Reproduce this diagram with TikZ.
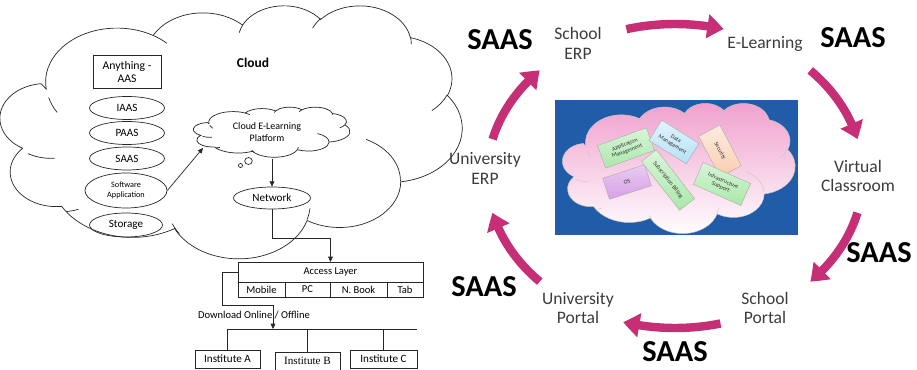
\documentclass[tikz,border=0pt]{standalone}
\usepackage{fontspec}
\setmainfont{Carlito}
\newfontfamily\timesfont{Liberation Serif}
\usetikzlibrary{shapes.geometric, arrows.meta, positioning, bending, calc}

\definecolor{saaspink}{RGB}{198,46,118}
\definecolor{panelblue}{RGB}{33,92,168}
\definecolor{labelgrey}{RGB}{60,60,60}
\definecolor{cloudpink}{RGB}{240,160,205}
\definecolor{cardgreen}{RGB}{170,232,170}
\definecolor{cardcyan}{RGB}{180,225,245}
\definecolor{cardpeach}{RGB}{250,205,175}
\definecolor{cardviolet}{RGB}{215,160,230}

% office style cloud outline, drawn in a 432 x 432 box (y pointing down)
\newcommand{\cloudoutline}{(39.00,143.70)
  arc[start angle=-187.75, end angle=-59.63, x radius=67.53, y radius=91.90]
  arc[start angle=-152.02, end angle=-45.47, x radius=53.33, y radius=72.67]
  arc[start angle=-153.48, end angle=-37.33, x radius=43.65, y radius=59.45]
  arc[start angle=-139.72, end angle=-10.21, x radius=48.57, y radius=65.95]
  arc[start angle=-74.79, end angle=23.21, x radius=53.33, y radius=72.73]
  arc[start angle=-37.52, end angle=81.86, x radius=67.75, y radius=92.20]
  arc[start angle=0.46, end angle=121.97, x radius=57.85, y radius=78.67]
  arc[start angle=16.85, end angle=153.94, x radius=67.52, y radius=92.15]
  arc[start angle=59.00, end angle=150.17, x radius=77.20, y radius=105.43]
  arc[start angle=-276.70, end angle=-136.91, x radius=43.60, y radius=59.18]
  arc[start angle=-239.65, end angle=-95.89, x radius=43.45, y radius=59.45]
  -- cycle}
% the little inner folds of the same cloud
\newcommand{\cloudcreases}{
  (46.93,261.77) arc[start angle=85.54, end angle=120.35, x radius=43.45, y radius=59.45]
  (69.28,348.99) arc[start angle=68.25, end angle=83.30, x radius=43.60, y radius=59.18]
  (164.78,390.90) arc[start angle=146.25, end angle=158.47, x radius=67.52, y radius=92.15]
  (288.27,347.51) arc[start angle=4.74, end angle=16.84, x radius=67.52, y radius=92.15]
  (341.29,229.54) arc[start angle=-64.00, end angle=0.46, x radius=57.85, y radius=78.67]
  (417.98,153.54) arc[start angle=23.21, end angle=49.67, x radius=53.33, y radius=72.73]
  (383.24,54.26) arc[start angle=-10.21, end angle=0.82, x radius=48.57, y radius=65.95]
  (290.78,39.52) arc[start angle=-156.28, end angle=-139.72, x radius=48.57, y radius=65.95]
  (221.41,47.20) arc[start angle=-167.72, end angle=-153.48, x radius=43.65, y radius=59.45]
  (140.00,51.92) arc[start angle=-59.63, end angle=-45.72, x radius=67.53, y radius=91.90]
  (41.27,157.89) arc[start angle=165.53, end angle=148.10, x radius=67.53, y radius=91.90]}

\begin{document}
\begin{tikzpicture}[x=0.03cm, y=-0.03cm,
    % left: cloud architecture
    line/.style={draw=black!85, line width=0.6pt},
    arrow/.style={line, -{Triangle[length=4.5pt, width=4pt]}},
    service/.style={
        ellipse,
        line,
        inner sep=0pt,
        minimum width=2.25cm,
        minimum height=0.69cm,
        font=\fontsize{9.5}{10}\selectfont
    },
    cell/.style={
        rectangle,
        line,
        outer sep=0pt,
        inner sep=0pt,
        minimum height=0.45cm,
        font=\fontsize{9}{10}\selectfont
    },
    institute/.style={
        rectangle,
        line,
        inner sep=0pt,
        minimum width=1.95cm,
        minimum height=0.54cm,
        font=\fontsize{9.5}{10}\selectfont
    },
    % right: SAAS ring
    stage/.style={align=center, text=labelgrey, font=\fontsize{15}{17}\selectfont},
    saas/.style={font=\fontsize{26}{26}\selectfont\bfseries},
    ringarrow/.style={
        draw=saaspink,
        line width=7.2pt,
        -{Triangle[width=20pt, length=14pt, bend]}
    },
    card/.style={
        rectangle,
        draw=gray!70,
        line width=0.3pt,
        inner sep=0.5pt,
        align=center,
        text=black!80,
        font=\fontsize{5}{5.5}\selectfont
    }
]
\path[use as bounding box] (0,0) rectangle (917,370);

% === Cloud (left) ===
\begin{scope}[shift={(5,5)}, x=0.031736cm, y=-0.017569cm]
    \draw[line] \cloudoutline;
    \draw[line] \cloudcreases;
\end{scope}
\node[font=\fontsize{11.5}{12}\selectfont\bfseries] (cloudtitle) at (253,63) {Cloud};

\node[rectangle, line, minimum width=2.04cm, minimum height=0.99cm, inner sep=0pt,
      align=center, font=\fontsize{10}{11}\selectfont] (xaas) at (127,72) {Anything -\\AAS};
\node[service] (iaas) at (127,108) {IAAS};
\node[service] (paas) at (127,133) {PAAS};
\node[service] (saas) at (127,158.5) {SAAS};
\node[service, minimum width=2.46cm, minimum height=1.05cm, align=center,
      font=\fontsize{7}{8.5}\selectfont] (softapp) at (126,190.5) {Software\\Application};
\node[service, minimum width=2.19cm, minimum height=0.72cm] (storage) at (126,225) {Storage};

% e-learning platform cloud with its callout bubbles
\begin{scope}[shift={(195,107)}, x=0.010764cm, y=-0.003472cm]
    \draw[line, fill=white] \cloudoutline;
    \draw[line] \cloudcreases;
\end{scope}
\draw[line] (248.5,161) ellipse [x radius=3.8, y radius=3.5];
\draw[line] (240.5,165.5) circle [radius=2];
\node[align=center, font=\fontsize{8.5}{10}\selectfont] (platform) at (267,132) {Cloud E-Learning\\Platform};
\coordinate (platformin) at (203,148);
\coordinate (platformout) at (272,159);

\node[service, minimum width=2.31cm, minimum height=0.66cm] (network) at (272,198) {Network};

\draw[arrow] (softapp.east) -- (platformin);
\draw[arrow] (platformout) -- (network.north);

% === Access layer ===
\node[cell, minimum width=5.55cm, minimum height=0.6cm] (access) at (330.5,272) {Access Layer};
\node[cell, minimum width=1.41cm, anchor=north west] (mobile) at (access.south west) {Mobile};
\node[cell, minimum width=1.35cm, anchor=north west] (pc) at (mobile.north east) {PC};
\node[cell, minimum width=1.71cm, anchor=north west] (nbook) at (pc.north east) {N. Book};
\node[cell, minimum width=1.08cm, anchor=north west] (tab) at (nbook.north east) {Tab};

\draw[arrow] (network.south) -- ++(0,29) -| (access.north);

% === Institutes ===
\node[institute] (instA) at (227.5,359) {Institute A};
\node[institute, font=\fontsize{9.5}{10}\timesfont] (instB) at (307.5,361) {Institute B};
\node[institute, minimum width=2.01cm] (instC) at (383.5,359) {Institute C};

\coordinate (busin) at (273,329);
\node[font=\fontsize{9}{10}\selectfont] (download) at (254,315) {Download Online / Offline};
\draw[arrow] (access.west) -| ++(-16,33) -| (busin);
\draw[line] (instA.north |- busin) -- (instC.north east |- busin);
\foreach \inst in {instA, instB, instC}
    \draw[line] (\inst.north |- busin) -- (\inst.north);

% === SAAS ring (right) ===
\node[fill=panelblue, minimum width=7.29cm, minimum height=4.05cm] (panel) at (676.5,167.5) {};
\begin{scope}[shift={(565,103)}, x=0.015972cm, y=-0.009028cm]
    \draw[draw=gray!45, line width=0.4pt, top color=cloudpink, bottom color=white] \cloudoutline;
    \draw[draw=gray!45, line width=0.4pt] \cloudcreases;
\end{scope}

\node[card, rotate=20, minimum width=1.56cm, minimum height=0.72cm,
      top color=cardgreen!45, bottom color=cardgreen] (appmgmt) at (626,148) {Application\\Management};
\node[card, rotate=-32, minimum width=1.32cm, minimum height=0.72cm,
      top color=cardcyan!40, bottom color=cardcyan] (datamgmt) at (674,142) {Data\\Management};
\node[card, rotate=-62, minimum width=1.38cm, minimum height=0.72cm,
      top color=cardpeach!40, bottom color=cardpeach] (security) at (720,151) {Security};
\node[card, rotate=18, minimum width=1.32cm, minimum height=0.66cm,
      top color=cardviolet!55, bottom color=cardviolet] (os) at (627,182) {OS};
\node[card, rotate=-52, minimum width=1.86cm, minimum height=0.57cm,
      top color=cardgreen!45, bottom color=cardgreen] (billing) at (668,180) {Subscription Billing};
\node[card, rotate=-24, minimum width=1.56cm, minimum height=0.72cm,
      top color=cardgreen!45, bottom color=cardgreen] (infra) at (722,184) {Infrastructure\\Support};

\node[stage] (schoolerp) at (578,43) {School\\ERP};
\node[stage] (elearning) at (765,44) {E-Learning};
\node[stage] (vclass) at (858,176) {Virtual\\Classroom};
\node[stage] (schoolportal) at (765,308) {School\\Portal};
\node[stage] (uniportal) at (578,308) {University\\Portal};
\node[stage] (unierp) at (485,168) {University\\ERP};

\node[saas] (saastl) at (500,40) {SAAS};
\node[saas] (saastr) at (853,38) {SAAS};
\node[saas] (saasr) at (879,253) {SAAS};
\node[saas] (saasb) at (675,352) {SAAS};
\node[saas] (saasl) at (484,287) {SAAS};

\coordinate (ring) at (675,176);
\foreach \a in {-105,-44,14,76,136,194}
    \draw[ringarrow] ($(ring)+(\a:188 and 152)$)
        arc[start angle=\a, delta angle=30, x radius=188, y radius=152];

\end{tikzpicture}
\end{document}
